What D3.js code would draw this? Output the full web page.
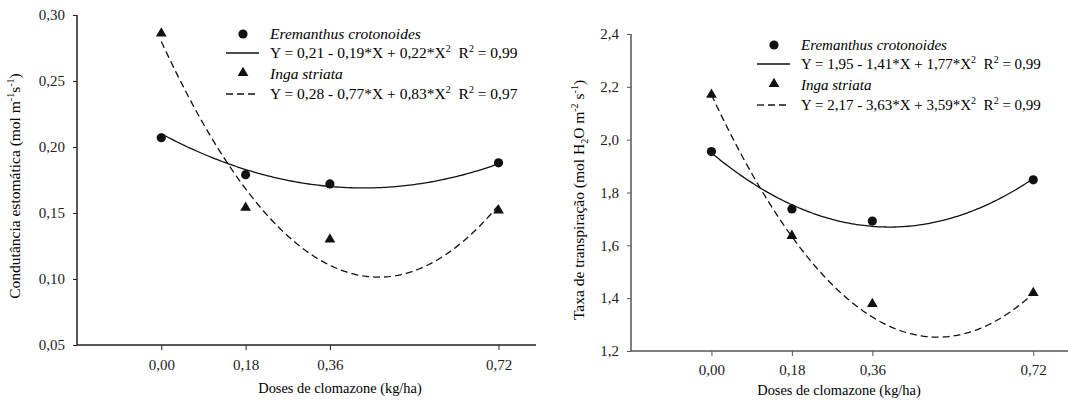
<!DOCTYPE html>
<html><head><meta charset="utf-8">
<script src="https://cdn.jsdelivr.net/npm/d3@7"></script>
<style>
html,body{margin:0;padding:0;background:#fff;}
</style></head>
<body><svg id="c" width="1068" height="403" style="font-family:'Liberation Serif'"></svg>
<script>
// ---- data ----
const doses = [0, 0.18, 0.36, 0.72];
const doseTicks = ["0,00", "0,18", "0,36", "0,72"];
const species = ["Eremanthus crotonoides", "Inga striata"];

const condEremanthus = [0.207, 0.179, 0.172, 0.188];
const condInga = [0.286, 0.154, 0.130, 0.152];
const condFitEremanthus = [0.21, -0.19, 0.22];
const condFitInga = [0.28, -0.77, 0.83];
const condEqs = ["Y = 0,21 - 0,19*X + 0,22*X", "Y = 0,28 - 0,77*X + 0,83*X"];
const condR2 = ["0,99", "0,97"];
const condYTicks = [0.05, 0.10, 0.15, 0.20, 0.25, 0.30];

const transEremanthus = [1.955, 1.738, 1.692, 1.848];
const transInga = [2.17, 1.636, 1.378, 1.42];
const transFitEremanthus = [1.95, -1.41, 1.77];
const transFitInga = [2.17, -3.63, 3.59];
const transEqs = ["Y = 1,95 - 1,41*X + 1,77*X", "Y = 2,17 - 3,63*X + 3,59*X"];
const transR2 = ["0,99", "0,99"];
const transYTicks = [1.2, 1.4, 1.6, 1.8, 2.0, 2.2, 2.4];

const FONT = "'Liberation Serif'";
const svg = d3.select("#c");
const fmt = (d, n) => d.toFixed(n).replace(".", ",");

function panel(o) {
  const g = svg.append("g");
  const x = d3.scaleLinear().domain([-0.18, 0.80]).range(o.xr);
  const y = d3.scaleLinear().domain(o.yd).range(o.yr);
  const x0 = o.xr[0], yb = o.yr[0];

  const ya = d3.axisLeft(y).tickValues(o.yTicks).tickSize(4).tickPadding(8).tickFormat(d => fmt(d, o.dec));
  const gy = g.append("g").attr("transform", `translate(${x0},0)`).call(ya);
  const xa = d3.axisBottom(x).tickValues(doses).tickSize(5).tickPadding(o.xpad).tickFormat((d, i) => doseTicks[i]);
  const gx = g.append("g").attr("transform", `translate(0,${yb})`).call(xa);
  [gx, gy].forEach(a => {
    a.attr("font-family", FONT).attr("font-size", 15);
    a.select(".domain").attr("stroke", o.axisColor).attr("stroke-width", 1.5);
    a.selectAll(".tick line").attr("stroke", o.axisColor).attr("stroke-width", 1);
    a.selectAll("text").attr("fill", "#222");
  });
  gy.select(".domain").attr("d", `M0,${o.yr[1]}V${yb}`);
  gx.select(".domain").attr("d", `M${x0},0H${o.xr[1]}`);

  g.append("text").attr("x", o.xtx).attr("y", o.xty)
    .attr("text-anchor", "middle").attr("font-size", 14.4).text("Doses de clomazone (kg/ha)");
  const yt = g.append("text").attr("transform", `translate(${o.ytx},${o.yty}) rotate(-90)`)
    .attr("text-anchor", "middle").attr("font-size", 15.5);
  o.yTitle.forEach(p => {
    const t = yt.append("tspan").text(p.t);
    if (p.s === "sup") t.attr("font-size", 10).attr("dy", -6);
    if (p.s === "sub") t.attr("font-size", 10).attr("dy", 4);
    if (p.s === "back") t.attr("dy", p.dy);
  });

  const line = d3.line().x(d => x(d[0])).y(d => y(d[1]));
  const xs = d3.range(0, 0.7201, 0.005);
  const fitPts = c => xs.map(v => [v, c[0] + c[1] * v + c[2] * v * v]);
  g.append("path").attr("d", line(fitPts(o.fitA))).attr("fill", "none").attr("stroke", "#111").attr("stroke-width", 1.3);
  g.append("path").attr("d", line(fitPts(o.fitB))).attr("fill", "none").attr("stroke", "#111").attr("stroke-width", 1.3).attr("stroke-dasharray", "7,4");

  g.selectAll(".c").data(o.a).enter().append("circle")
    .attr("cx", (d, i) => x(doses[i])).attr("cy", d => y(d)).attr("r", 4.6).attr("fill", "#111");
  const tri = d3.symbol().type(d3.symbolTriangle).size(50);
  g.selectAll(".t").data(o.b).enter().append("path").attr("d", tri)
    .attr("transform", (d, i) => `translate(${x(doses[i])},${y(d)})`).attr("fill", "#111");

  const lx = o.lx, ly = o.ly, tx = lx + 44, fs = o.lfs;
  const L = g.append("g");
  L.append("circle").attr("cx", lx + 17).attr("cy", ly).attr("r", 4.6).attr("fill", "#111");
  L.append("text").attr("x", tx).attr("y", ly + 5).attr("font-size", fs).attr("font-style", "italic").text(species[0]);
  L.append("line").attr("x1", lx).attr("x2", lx + 33).attr("y1", ly + 19).attr("y2", ly + 19).attr("stroke", "#111").attr("stroke-width", 1.3);
  const e1 = L.append("text").attr("x", tx).attr("y", ly + 24).attr("font-size", fs);
  e1.append("tspan").text(o.eqs[0]);
  e1.append("tspan").attr("font-size", 10).attr("dy", -6).text("2");
  e1.append("tspan").attr("dy", 6).text("\u00a0 R");
  e1.append("tspan").attr("font-size", 10).attr("dy", -6).text("2");
  e1.append("tspan").attr("dy", 6).text(" = " + o.r2[0]);
  L.append("path").attr("d", tri).attr("transform", `translate(${lx + 17},${ly + 39})`).attr("fill", "#111");
  L.append("text").attr("x", tx).attr("y", ly + 45).attr("font-size", fs).attr("font-style", "italic").text(species[1]);
  L.append("line").attr("x1", lx).attr("x2", lx + 33).attr("y1", ly + 60).attr("y2", ly + 60).attr("stroke", "#111").attr("stroke-width", 1.3).attr("stroke-dasharray", "7,4");
  const e2 = L.append("text").attr("x", tx).attr("y", ly + 65).attr("font-size", fs);
  e2.append("tspan").text(o.eqs[1]);
  e2.append("tspan").attr("font-size", 10).attr("dy", -6).text("2");
  e2.append("tspan").attr("dy", 6).text("\u00a0 R");
  e2.append("tspan").attr("font-size", 10).attr("dy", -6).text("2");
  e2.append("tspan").attr("dy", 6).text(" = " + o.r2[1]);
}

panel({
  xr: [77, 536], yd: [0.05, 0.30], yr: [345, 15], yTicks: condYTicks, dec: 2, axisColor: "#222",
  a: condEremanthus, b: condInga, fitA: condFitEremanthus, fitB: condFitInga,
  eqs: condEqs, r2: condR2, lx: 226, ly: 34, lfs: 15.5, ytx: 20, yty: 186,
  xtx: 340, xty: 393, xpad: 9,
  yTitle: [{t: "Condutância estomática (mol m"}, {t: "-1", s: "sup"}, {t: "s", s: "back", dy: 6}, {t: "-1", s: "sup"}, {t: ")", s: "back", dy: 6}]
});
panel({
  xr: [631, 1069], yd: [1.2, 2.4], yr: [351, 34], yTicks: transYTicks, dec: 1, axisColor: "#555",
  a: transEremanthus, b: transInga, fitA: transFitEremanthus, fitB: transFitInga,
  eqs: transEqs, r2: transR2, lx: 757, ly: 45, lfs: 15, ytx: 584, yty: 200,
  xtx: 839, xty: 395, xpad: 8,
  yTitle: [{t: "Taxa de transpiração  (mol H"}, {t: "2", s: "sub"}, {t: "O m", s: "back", dy: -4}, {t: "-2", s: "sup"}, {t: " s", s: "back", dy: 6}, {t: "-1", s: "sup"}, {t: ")", s: "back", dy: 6}]
});
svg.selectAll("text").style("font-family", FONT);
</script></body></html>
